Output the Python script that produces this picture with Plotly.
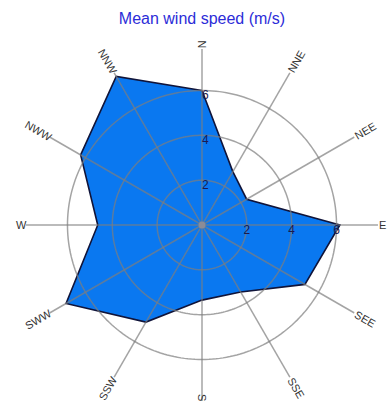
import math
import numpy as np
import plotly.graph_objects as go

# Mean wind speed per compass sector (m/s)
directions = ["N", "NNE", "NEE", "E", "SEE", "SSE", "S", "SSW", "SWW", "W", "NWW", "NNW"]
speeds = [6.0, 2.75, 2.3, 6.15, 5.3, 3.45, 3.35, 5.0, 7.0, 4.65, 6.25, 7.65]
ring_values = [2, 4, 6]
ring_labels = ["2", "4", "6"]

W, H = 390, 403
CX, CY, RPX = 202, 225, 176          # polar centre and radius in pixels
RMAX = 7.85                          # radial range end

angles = [i * 360 / len(directions) for i in range(len(directions))]

fig = go.Figure()

# filled wind profile
fig.add_trace(go.Scatterpolar(
    r=speeds + speeds[:1], theta=angles + angles[:1],
    mode="lines", fill="toself",
    fillcolor="#0a78f0", line=dict(color="#10143a", width=1.6),
    hoverinfo="skip", showlegend=False))

grid_col = "rgba(125,125,125,0.7)"

# spokes drawn over the fill
sr, st = [], []
for a in angles:
    sr += [0, RMAX, None]
    st += [a, a, None]
fig.add_trace(go.Scatterpolar(r=sr, theta=st, mode="lines",
                              line=dict(color=grid_col, width=1.5),
                              hoverinfo="skip", showlegend=False))

# rings drawn over the fill
circ = np.linspace(0, 360, 241)
for v in ring_values:
    fig.add_trace(go.Scatterpolar(r=[v] * len(circ), theta=circ, mode="lines",
                                  line=dict(color=grid_col, width=1.5),
                                  hoverinfo="skip", showlegend=False))

# centre dot
fig.add_trace(go.Scatterpolar(r=[0], theta=[0], mode="markers",
                              marker=dict(color="rgb(140,140,150)", size=7),
                              hoverinfo="skip", showlegend=False))

# ring values along N and E spokes
lab_font = dict(family="Liberation Sans, Arial, sans-serif", size=12, color="#1a1a50")
fig.add_trace(go.Scatterpolar(r=ring_values, theta=[0] * 3, mode="text",
                              text=ring_labels, textposition="bottom right",
                              textfont=lab_font, hoverinfo="skip", showlegend=False))
fig.add_trace(go.Scatterpolar(r=ring_values, theta=[90] * 3, mode="text",
                              text=ring_labels, textposition="bottom center",
                              textfont=lab_font, hoverinfo="skip", showlegend=False))

# direction labels, rotated along their spokes
annotations = []
for name, a in zip(directions, angles):
    w = 7.5 * len(name)
    rr = RPX + 1 + w / 2
    rad = math.radians(a)
    px = CX + rr * math.sin(rad)
    py = min(CY - rr * math.cos(rad), H - 6)   # keep bottom label on the page
    ang = a - 90 if a <= 180 else a - 270
    annotations.append(dict(text=name, x=px / W, y=1 - py / H,
                            xref="paper", yref="paper",
                            showarrow=False, textangle=ang,
                            xanchor="center", yanchor="middle",
                            font=dict(family="Liberation Sans, Arial, sans-serif",
                                      size=11, color="#333333")))

fig.update_layout(
    width=W, height=H,
    margin=dict(l=0, r=0, t=0, b=0),
    paper_bgcolor="white",
    title=dict(text="Mean wind speed (m/s)", x=CX / W, xanchor="center",
               y=1 - 18 / H, yanchor="middle", yref="container",
               font=dict(family="Liberation Sans, Arial, sans-serif", size=16,
                         color="#2c2cd8")),
    annotations=annotations,
    polar=dict(
        domain=dict(x=[(CX - RPX) / W, (CX + RPX) / W],
                    y=[1 - (CY + RPX) / H, 1 - (CY - RPX) / H]),
        bgcolor="white",
        radialaxis=dict(range=[0, RMAX], showgrid=False, showline=False,
                        showticklabels=False, ticks=""),
        angularaxis=dict(rotation=90, direction="clockwise", showgrid=False,
                         showline=False, showticklabels=False, ticks=""),
    ),
)

fig.write_html("out.html")
